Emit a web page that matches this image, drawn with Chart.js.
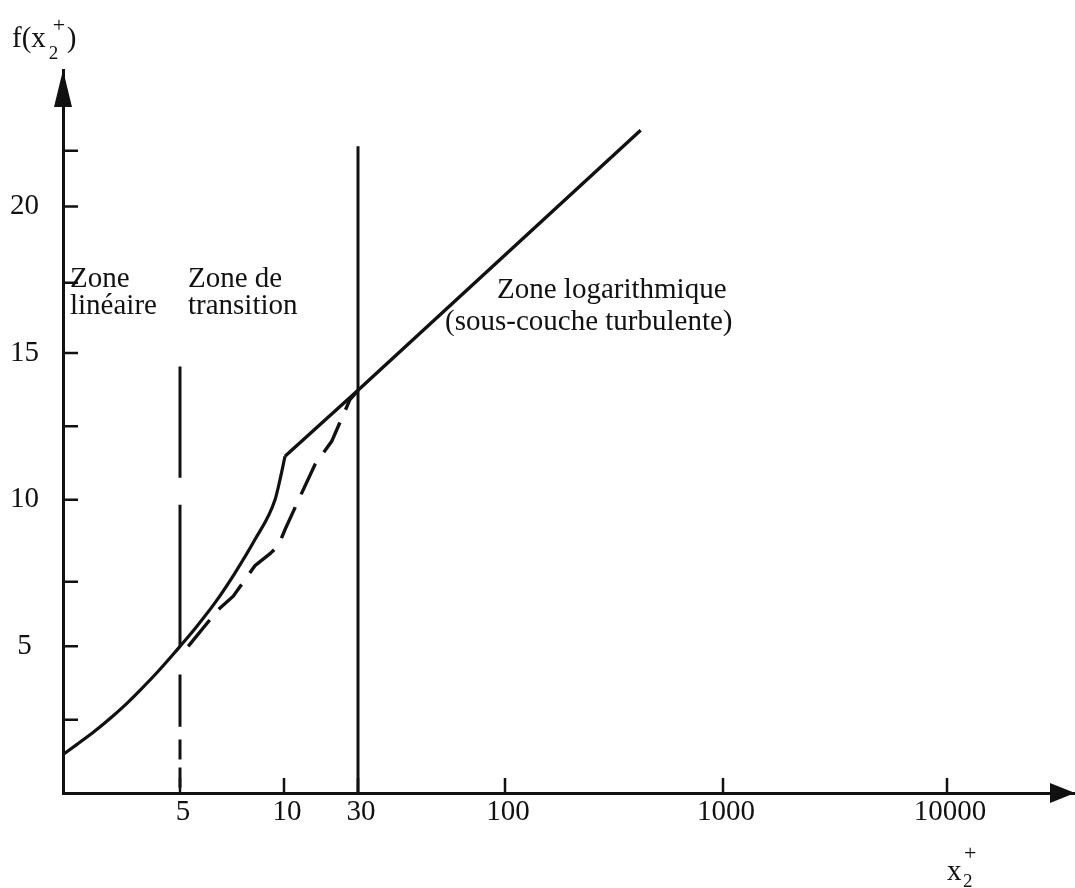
<!DOCTYPE html>
<html>
<head>
<meta charset="utf-8">
<script src="https://cdn.jsdelivr.net/npm/chart.js@4.4.1/dist/chart.umd.min.js"></script>
<style>
  html, body { margin: 0; padding: 0; background: #fff; }
</style>
</head>
<body>
<canvas id="profil" width="1075" height="888"></canvas>
<script>
// graduations
const xTicks = [5, 10, 30, 100, 1000, 10000];
const xTickLabels = ['5', '10', '30', '100', '1000', '10000'];
const yTicks = [2.5, 5, 7.2, 10, 12.5, 15, 17.4, 20, 21.9];
const yTickLabels = ['', '5', '', '10', '', '15', '', '20', ''];

// loi de paroi, trait plein (x2+, f) : sous-couche visqueuse jusqu'au point anguleux
const curveX = [0, 0.585, 1.295, 2.01, 2.72, 3.29, 4.0, 4.71, 5, 5.59, 6.31, 7.21, 8.24, 9.42, 9.74, 10.15];
const curveY = [1.31, 1.65, 2.07, 2.54, 3.05, 3.50, 4.09, 4.73, 5.0, 5.68, 6.48, 7.50, 8.64, 10.0, 10.69, 11.48];
// puis droite logarithmique
const logX = [10.15, 30, 419];
const logY = [11.48, 13.73, 22.6];

// raccord en tirets
const dashedX = [5.28, 6.45, 7.13, 8.24, 9.11, 9.63, 10.15, 12.68, 15.84, 20.3, 26.6, 30];
const dashedY = [5.0, 6.25, 6.71, 7.75, 8.16, 8.43, 8.98, 10.1, 11.2, 11.99, 13.41, 13.72];

// limites de zones (segments separes par null)
const limit5Y = [14.54, 10.75, null, 9.83, 5.0, null, 4.04, 2.26, null, 1.82, 1.14, null, 0.87, 0.18];
const limit30Y = [0, 22.05];

// axe des abscisses schematique : position de chaque graduation le long de l'axe
const AXIS_VALUES = [0, 5, 10, 30, 100, 1000, 10000];
const AXIS_POS = [0, 117, 221, 295, 442, 660, 884];
const AXIS_LEN = 1012;
const Y_MAX = 24.65;

const INK = '#111';
const FONT = '"Liberation Serif", "DejaVu Serif", serif';

function toAxis(v) {
    if (v <= AXIS_VALUES[1]) return v / AXIS_VALUES[1] * AXIS_POS[1];
    let i = 1;
    while (i < AXIS_VALUES.length - 2 && v > AXIS_VALUES[i + 1]) i++;
    let a = AXIS_VALUES[i], b = AXIS_VALUES[i + 1];
    return AXIS_POS[i] + (AXIS_POS[i + 1] - AXIS_POS[i]) * Math.log(v / a) / Math.log(b / a);
}

function points(xs, ys) {
    return ys.map((y, i) => ({x: toAxis(Array.isArray(xs) ? xs[i] : xs), y: y}));
}

// fleches, graduations interieures, textes
const decor = {
    id: 'decor',
    afterDraw(chart) {
        const ctx = chart.ctx;
        const area = chart.chartArea;
        const xs = chart.scales.x, ys = chart.scales.y;
        ctx.save();
        ctx.strokeStyle = INK;
        ctx.fillStyle = INK;

        ctx.lineWidth = 2.5;
        ctx.beginPath();
        yTicks.forEach(v => {
            let py = ys.getPixelForValue(v);
            ctx.moveTo(area.left, py);
            ctx.lineTo(area.left + 15, py);
        });
        xTicks.forEach(v => {
            let px = xs.getPixelForValue(toAxis(v));
            ctx.moveTo(px, area.bottom);
            ctx.lineTo(px, area.bottom - 15);
        });
        ctx.stroke();

        ctx.beginPath();
        ctx.moveTo(area.left, area.top);
        ctx.lineTo(area.left - 9, area.top + 37);
        ctx.lineTo(area.left + 9, area.top + 37);
        ctx.closePath();
        ctx.fill();

        ctx.beginPath();
        ctx.moveTo(area.right, area.bottom);
        ctx.lineTo(area.right - 25, area.bottom - 10);
        ctx.lineTo(area.right - 25, area.bottom + 10);
        ctx.closePath();
        ctx.fill();

        ctx.textAlign = 'left';
        ctx.textBaseline = 'alphabetic';
        ctx.font = '29px ' + FONT;
        ctx.fillText('Zone', 70, 287);
        ctx.fillText('linéaire', 70, 314);
        ctx.fillText('Zone de', 188, 287);
        ctx.fillText('transition', 188, 314);
        ctx.fillText('Zone logarithmique', 497, 298);
        ctx.fillText('(sous-couche turbulente)', 445, 330);

        // f(x2+)
        ctx.fillText('f(x', 12, 47);
        let e = 12 + ctx.measureText('f(x').width;
        ctx.fillText(')', e + 21, 47);
        ctx.font = '19px ' + FONT;
        ctx.fillText('2', e + 3, 59);
        ctx.font = '22px ' + FONT;
        ctx.fillText('+', e + 7, 32);

        // x2+
        ctx.font = '29px ' + FONT;
        ctx.fillText('x', 947, 880);
        ctx.font = '19px ' + FONT;
        ctx.fillText('2', 963, 887);
        ctx.font = '22px ' + FONT;
        ctx.fillText('+', 964, 860);
        ctx.restore();
    }
};

const lineStyle = {
    showLine: true,
    pointRadius: 0,
    borderColor: INK,
    fill: false,
    spanGaps: false,
    tension: 0
};

new Chart(document.getElementById('profil').getContext('2d'), {
    type: 'scatter',
    data: {
        datasets: [
            Object.assign({}, lineStyle, {label: 'loi de paroi', data: points(curveX, curveY), borderWidth: 3.2, cubicInterpolationMode: 'monotone'}),
            Object.assign({}, lineStyle, {label: 'loi log', data: points(logX, logY), borderWidth: 3.4}),
            Object.assign({}, lineStyle, {label: 'raccord', data: points(dashedX, dashedY), borderWidth: 3.4, borderDash: [34, 14]}),
            Object.assign({}, lineStyle, {label: 'x+ = 5', data: points(5, limit5Y), borderWidth: 3}),
            Object.assign({}, lineStyle, {label: 'x+ = 30', data: points(30, limit30Y), borderWidth: 3})
        ]
    },
    options: {
        responsive: false,
        animation: false,
        events: [],
        layout: {padding: {top: 70, right: 0, bottom: 0, left: 0}},
        plugins: {legend: {display: false}, tooltip: {enabled: false}},
        scales: {
            x: {
                type: 'linear',
                min: 0,
                max: AXIS_LEN,
                afterFit: s => { s.height = 95; },
                afterBuildTicks: s => { s.ticks = xTicks.map(v => ({value: toAxis(v)})); },
                grid: {display: false, drawTicks: false},
                border: {display: true, width: 3, color: INK},
                ticks: {
                    autoSkip: false,
                    maxRotation: 0,
                    padding: 2,
                    labelOffset: 3,
                    color: INK,
                    font: {family: FONT, size: 29},
                    callback: (v, i) => xTickLabels[i]
                }
            },
            y: {
                type: 'linear',
                min: 0,
                max: Y_MAX,
                afterFit: s => { s.width = 63; },
                afterBuildTicks: s => { s.ticks = yTicks.map(v => ({value: v})); },
                grid: {display: false, drawTicks: false},
                border: {display: true, width: 3, color: INK},
                ticks: {
                    crossAlign: 'center',
                    padding: 24,
                    color: INK,
                    font: {family: FONT, size: 29},
                    callback: (v, i) => yTickLabels[i]
                }
            }
        }
    },
    plugins: [decor]
});
</script>
</body>
</html>
